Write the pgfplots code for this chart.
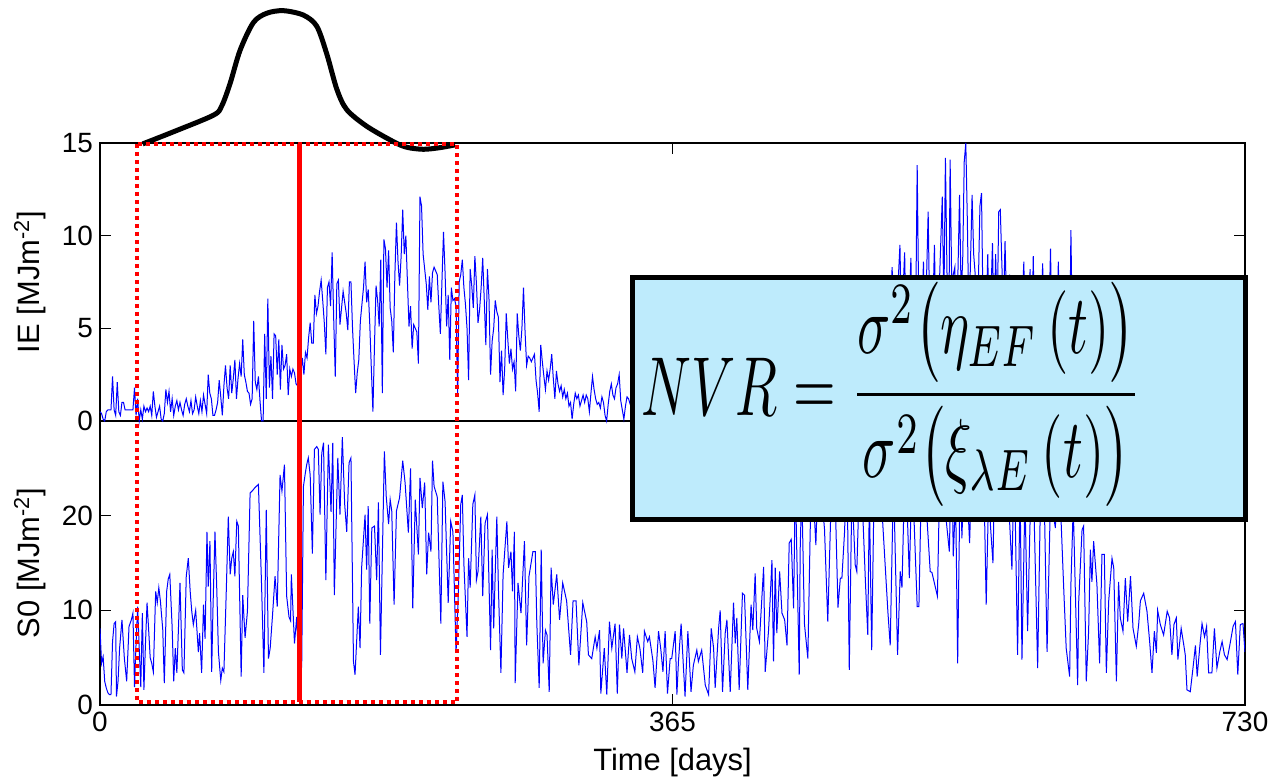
\documentclass[border=0pt]{standalone}
\usepackage{fontspec}
\setmainfont{Liberation Sans}
\usepackage{pgfplots}
\pgfplotsset{compat=1.18}
\usetikzlibrary{calc}
\definecolor{boxblue}{RGB}{190,235,252}
\begin{document}
\begin{tikzpicture}
\pgfplotsset{
  mystyle/.style={
    scale only axis, width=572.5bp,
    xmin=0, xmax=730,
    xtick={0,365,730},
    tick align=inside,
    major tick length=5.5bp,
    axis line style={line width=0.7bp},
    every tick/.style={line width=0.6bp, black},
    /pgf/number format/assume math mode=true,
    tick label style={font=\fontsize{14}{16}\selectfont},
    label style={font=\fontsize{15.5}{18}\selectfont},
    ylabel style={at={(axis description cs:-0.041,0.5)}, anchor=south},
    xlabel style={yshift=-1.5bp},
  }
}
\path[use as bounding box] (0,0) rectangle (636bp,391bp);
% ---------------- bottom axis: S0 ----------------
\begin{axis}[mystyle, at={(50bp,38.5bp)}, anchor=south west, height=142bp,
  ymin=0, ymax=30, ytick={0,10,20},
  xlabel={Time [days]}, ylabel={S0 [MJm\textsuperscript{-2}]}]
\addplot[blue, line width=0.5bp] coordinates {
(0,8.1)(1,4.4)(2,5.1)(3,2.5)(4,1.8)(5,1.3)(6,1.1)(7,1.1)(8,6.7)(9,8.6)(10,8.8)(10.5,0.9)(11.5,2.5)(12.5,6.0)(14,9.0)(15.5,5.0)(17,2.5)(18.5,8.3)(20,9.0)(21,9.7)(22,1.9)(23,6.5)(24,10.4)(25,6.0)(26,1.9)(27,9.7)(28,1.6)(29,6.5)(30,10.8)(31,8.0)(32,5.0)(33,4.4)(34,3.5)(35.5,12.0)(36.5,10.8)(37.5,12.4)(38.5,11.0)(40,8.0)(41,2.3)(42.5,12.0)(43.5,13.3)(44.5,13.8)(46,8.2)(47,2.5)(48,6.0)(49,3.4)(50,8.0)(51,12.9)(52.5,3.7)(53.5,3.4)(55,13.6)(56.3,15.5)(57.5,12.0)(58.5,9.9)(59.5,8.5)(61,10.0)(62.7,5.6)(63.5,7.6)(64.8,3.4)(66,10.6)(67,7.0)(68.2,18.3)(69,12.5)(70.1,17.3)(71.2,3.5)(72,10.0)(73.3,18.3)(74.5,12.0)(75.5,5.6)(77,2.6)(78,3.9)(79,3.5)(80.5,12.0)(81.8,19.9)(83,13.8)(84,15.5)(85,16.2)(86,13.6)(87.2,19.4)(88.2,18.9)(90,3.0)(91,11.6)(92.5,7.1)(94,9.9)(95.7,22.4)(97,22.6)(99,23.0)(101,23.3)(102,18.0)(103,12.7)(104.5,3.4)(106,20.6)(107.4,4.9)(108.5,6.0)(110,9.5)(111.6,13.6)(113,10.4)(114.8,24.3)(116,22.6)(117.6,25.4)(119,11.5)(120.5,9.3)(121.5,8.9)(122,13.8)(124,6.5)(125.4,9.3)(126.5,5.0)(128.6,4.2)(129.7,23.1)(131,24.6)(131.8,25.4)(132.8,26.1)(134,24.3)(135.4,16.0)(136.7,27.0)(138.2,27.3)(139.2,27.0)(140.3,20.1)(141.4,26.6)(142.5,27.7)(144,13.2)(145.6,27.5)(147.3,20.4)(148.4,27.7)(149.4,11.6)(151.6,26.1)(153,20.1)(154.5,28.3)(156,21.2)(157.3,18.3)(158.8,25.6)(160,26.1)(161.6,4.6)(162.6,3.2)(164.7,10.4)(165.8,6.0)(166.8,14.5)(169,20.1)(170,14.3)(171,21.0)(172,8.6)(173.3,18.7)(175,18.9)(176.4,13.2)(177.5,21.4)(178.8,5.3)(181.3,26.8)(182.5,22.0)(184,19.1)(185,21.7)(186,20.5)(187.5,10.6)(189,20.5)(191,21.9)(193,25.8)(194.5,23.5)(196.6,18.2)(198,25.0)(199.4,10.2)(201,21.7)(203,15.9)(204,24.0)(205.5,20.8)(207,23.5)(208.3,13.8)(209.5,18.2)(211,16.2)(212,25.8)(213,23.1)(215,22.0)(217.3,8.6)(218.6,23.6)(220,21.5)(222,10.8)(223.6,19.4)(225,18.3)(227,5.5)(228.5,12.0)(230,21.2)(231,22.2)(232,14.9)(234,7.2)(235,15.5)(236,12.4)(237.7,21.2)(239,22.2)(240,13.2)(241,14.1)(242.8,19.9)(244,11.5)(245.5,19.2)(247,20.1)(249,5.8)(250,16.4)(251,8.1)(253,19.9)(254,12.4)(255.6,3.4)(257,13.8)(259.4,19.4)(260.5,14.5)(262,16.2)(263,12.0)(264.2,18.3)(264.7,2.3)(266.5,12.9)(268.4,9.7)(270.6,17.3)(272,6.3)(273.5,13.6)(276,16.2)(277.5,16.2)(278.5,8.6)(280,1.8)(281.3,16.4)(282.5,4.4)(284,7.9)(285,7.4)(286.4,1.4)(287.6,14.5)(289,10.6)(291.2,13.8)(293,9.0)(295,12.9)(297.5,11.0)(300,5.3)(301.6,11.0)(303.5,11.0)(305.3,4.2)(307.8,10.8)(310.3,8.8)(311.4,5.3)(313.5,4.9)(315.7,7.2)(316.8,6.0)(318.5,7.9)(319.3,1.2)(321.5,6.0)(323.1,1.1)(324.8,8.8)(326.3,6.0)(328.4,8.6)(329.8,1.2)(331.2,8.5)(332.7,4.9)(333.8,8.1)(336,3.4)(337.6,7.4)(339,4.9)(341,3.5)(342.6,7.2)(344.2,6.0)(346,3.4)(347.1,7.8)(349.2,6.7)(350.3,7.2)(352.5,4.7)(353.9,1.8)(356.1,7.8)(357.6,5.8)(358.9,3.5)(360.3,7.8)(361.8,1.2)(363.5,4.9)(364.5,4.9)(366.7,7.8)(367.8,1.1)(368.8,4.6)(370.5,8.6)(372,3.9)(373,0.9)(374.8,7.8)(376.8,1.4)(378.3,4.2)(380.5,5.8)(381.5,4.6)(383.6,5.8)(385.9,2.1)(388,1.1)(389.7,8.1)(391.2,6.0)(392.2,1.8)(394.4,8.1)(395.4,10.0)(396.9,1.4)(398.6,7.6)(399.7,9.0)(400.7,5.3)(401.8,1.4)(403.9,10.8)(405,6.5)(406,9.2)(407.5,1.6)(409.6,11.8)(410.9,11.6)(413,1.6)(415.1,10.6)(416.2,7.9)(417.7,13.9)(418.7,8.1)(420.4,6.7)(423.1,14.6)(424.1,3.5)(426.2,7.8)(427.3,11.3)(428.4,15.3)(429.4,4.6)(430.5,14.5)(431.5,7.6)(433.3,14.1)(434.8,9.7)(436.5,9.0)(438,6.3)(439.4,17.1)(440.7,17.5)(442.2,10.2)(443.3,24.0)(445.8,3.2)(446.4,16.4)(447.4,23.0)(449.1,8.6)(451.3,4.9)(452.8,18.5)(453.9,25.0)(456.4,16.9)(458.1,26.0)(461.9,18.6)(464,8.8)(466.6,24.5)(468.7,22.0)(470.5,10.3)(472,13.4)(473,13.4)(474.7,18.3)(476.2,26.5)(477.7,3.7)(479.4,23.0)(481.5,14.8)(482.5,14.1)(484.7,27.0)(488,13.0)(489.5,7.4)(490.5,22.0)(492,5.8)(493.7,25.0)(498.4,21.0)(502.3,9.9)(503.8,6.3)(505.9,24.0)(508.5,5.3)(510.2,14.1)(511.3,12.4)(513.4,27.0)(516,13.4)(517.7,25.5)(521,10.4)(522.1,10.4)(524.2,28.0)(529.3,14.1)(530.4,14.0)(533.9,11.5)(535.6,26.0)(541.5,16.2)(543,27.5)(544,15.7)(545.5,22.0)(546.8,4.4)(548.5,26.0)(549.5,17.6)(551.5,28.0)(554.4,17.1)(555.9,25.0)(558,20.5)(561,27.0)(563.5,24.0)(565,10.6)(566.5,22.0)(569.3,15.0)(570.8,28.0)(573,21.0)(576,25.5)(579,22.5)(581.4,14.3)(582.9,26.0)(585,5.3)(586.6,23.0)(587.8,4.8)(589.7,22.0)(591.4,7.8)(592.9,19.0)(595,24.0)(597.8,3.9)(599.5,21.0)(601.5,26.5)(603.8,5.6)(606,22.0)(609.1,18.7)(610.2,24.0)(612.5,20.5)(614.4,12.4)(616,6.0)(618.2,3.0)(619,12.7)(620.5,21.0)(623.3,2.1)(624,11.0)(626.1,18.5)(627.1,18.9)(628.8,2.5)(630.3,7.8)(631.4,16.4)(632.4,13.0)(633.5,17.3)(635.6,12.7)(637.3,4.4)(638.8,15.9)(640.3,15.9)(641.6,3.4)(643.1,11.0)(645.2,15.5)(646.3,14.5)(648,2.5)(649.4,13.0)(650.5,9.2)(652.2,7.8)(653.7,13.4)(655.2,8.8)(657,13.6)(658.6,8.1)(660.7,6.2)(662.2,8.5)(663.3,11.0)(665.4,11.8)(667.5,9.9)(669.2,6.7)(670.7,3.4)(672.2,7.8)(673.5,5.5)(674.3,10.0)(676,8.5)(678.1,7.4)(680.4,9.9)(681.9,9.2)(683.4,5.3)(684.7,8.5)(686.2,9.2)(687.2,4.8)(689.3,8.1)(691,6.3)(691.9,5.3)(693,1.6)(695.1,1.4)(696.9,4.0)(698.4,6.3)(699.5,3.0)(701.2,6.2)(702.6,8.6)(704.2,7.2)(705.5,8.3)(706.8,3.4)(708.9,3.4)(710.5,8.1)(712.1,3.9)(713.9,5.6)(715.4,6.7)(716.9,5.3)(718.6,4.8)(720.3,6.3)(722.4,8.3)(723.9,8.8)(725.4,3.2)(727,8.5)(728.7,8.6)(730,5.6)
};
\coordinate (RB) at (axis cs:227.7,0.3);
\coordinate (LB) at (axis cs:126.9,0.3);
\coordinate (BoxBR) at (axis cs:730,19.6);
\end{axis}
% ---------------- top axis: IE ----------------
\begin{axis}[mystyle, at={(50bp,180.5bp)}, anchor=south west, height=139bp,
  ymin=0, ymax=15, ytick={0,5,10,15}, xticklabels={}, clip=false,
  ylabel={IE [MJm\textsuperscript{-2}]}]
\addplot[blue, line width=0.5bp] coordinates {
(0,0.5)(1,0.4)(2,0.1)(3,0)(4,0.5)(5,0.6)(6,0.6)(7,0.6)(8,2.4)(9,0.6)(10,0.3)(11,2.1)(12,0.5)(13,0.3)(14,1.0)(15,1.0)(16,0.6)(17,0.6)(18,0.6)(19,0.6)(20,0.6)(21,0.6)(22,1.8)(23,0.3)(24,1.2)(25,0)(26,0.6)(27,0.1)(28,0.8)(29,0.5)(30,0.7)(31,0.5)(32,0.8)(33,0.3)(34,1.6)(35,0.8)(36,0.2)(37,0.5)(38,0.8)(39,0.1)(40,0)(41,0.4)(42,1.7)(43,1.0)(44,1.6)(45,0.5)(46,1.2)(47,0.3)(48,0.8)(49,1.1)(50,0.6)(51,1.0)(52,0.6)(53,0.3)(54,0.9)(55,1.2)(56,0.8)(57,0.5)(58,1.1)(59,0.4)(60,0.6)(61,1.3)(62,0.8)(63,0.4)(64,1.1)(65,0.5)(66,1.4)(67,0.9)(68,0.4)(69,2.5)(70,1.5)(71,1.2)(72,0.3)(73,0.3)(74,0.6)(75,1.0)(76,2.2)(77,1.3)(78,0.3)(79,1.9)(80,3.0)(81,1.8)(82,1.2)(83,3.0)(84,1.5)(85,2.3)(86,3.3)(87,1.2)(88,2.3)(89,3.1)(90,2.4)(91,4.4)(92,2.5)(93,2.1)(94,1.6)(95,1.5)(96,0.9)(97,1.2)(98,5.4)(99,2.1)(100,1.7)(101,2.4)(102,1.1)(103,0)(104,0)(105,4.7)(106,1.2)(107,6.6)(108,1.8)(109,3.5)(110,1.2)(111,4.7)(112,4.6)(113,2.5)(114,4.4)(115,1.7)(116,4.1)(117,2.8)(118,3.0)(119,3.6)(120,1.4)(121,2.8)(122,2.4)(123,2.8)(124,2.6)(125,2.0)(126,1.9)(127,1.5)(128,2.6)(129,3.4)(130,2.5)(131,3.7)(132,3.4)(133,4.5)(134,5.3)(135,4.2)(136,4.2)(137,6.8)(138,5.8)(139,6.2)(140,7.0)(141,7.6)(142,6.5)(143,5.3)(144,3.6)(145,7.2)(146,7.5)(147,6.2)(148,9.1)(149,5.5)(150,2.4)(151,7.4)(152,7.6)(153,5.2)(154,6.1)(155,7.0)(156,6.4)(157,5.8)(158,4.9)(159,7.5)(160,7.5)(161,5.0)(162,3.2)(163,1.5)(164,2.6)(165,3.3)(166,5.4)(167,6.3)(168,7.2)(169,8.6)(170,6.4)(171,7.1)(172,5.2)(173,2.8)(174,0.5)(175,4.1)(176,7.3)(177,6.5)(178,5.1)(179,8.7)(180,1.5)(181,9.8)(182,9.3)(183,7.2)(184,9.2)(185,6.1)(186,5.4)(187,3.7)(188,7.9)(189,10.7)(190,8.6)(191,7.3)(192,8.9)(193,11.4)(194,9.0)(195,10.0)(196,7.5)(197,5.1)(198,6.2)(199,3.9)(200,5.2)(201,5.0)(202,4.8)(203,3.1)(204,12.1)(205,11.6)(206,9.0)(207,8.2)(208,7.4)(209,6.0)(210,7.8)(211,6.4)(212,8.0)(213,8.3)(214,8.1)(215,7.9)(216,6.2)(217,4.7)(218,7.5)(219,10.2)(220,8.0)(221,5.1)(222,6.8)(223,3.3)(224,7.2)(225,6.5)(226,6.6)(227,6.2)(228,1.4)(229,7.5)(230,7.9)(231,8.7)(232,7.2)(233,6.3)(234,5.0)(235,2.2)(236,8.2)(237,7.3)(238,6.1)(239,8.9)(240,7.4)(241,5.3)(242,6.0)(243,7.2)(244,8.8)(245,6.5)(246,4.1)(247,8.2)(248,6.6)(249,2.5)(250,4.3)(251,5.0)(252,6.5)(253,5.9)(254,5.6)(255,2.1)(256,3.8)(257,1.4)(258,2.8)(259,5.8)(260,4.4)(261,3.1)(262,3.9)(263,2.8)(264,3.2)(265,1.6)(266,5.8)(267,4.6)(268,3.8)(269,5.0)(270,7.2)(271,4.8)(272,3.0)(273,3.5)(274,3.4)(275,3.2)(276,3.4)(277,3.6)(278,2.2)(279,1.5)(280,0.5)(281,4.1)(282,3.2)(283,2.4)(284,1.7)(285,2.7)(286,2.2)(287,2.8)(288,3.6)(289,2.3)(290,1.2)(291,2.7)(292,2.0)(293,1.6)(294,1.9)(295,1.3)(296,1.7)(297,1.2)(298,1.5)(299,0.8)(300,1.0)(301,0.1)(302,0.9)(303,1.5)(304,1.2)(305,1.4)(306,0.8)(307,1.1)(308,1.4)(309,1.0)(310,1.4)(311,1.2)(312,0.5)(313,1.5)(314,2.4)(315,1.7)(316,1.2)(317,0.9)(318,1.0)(319,0.7)(320,1.3)(321,1.0)(322,0.3)(323,0)(324,0.9)(325,1.6)(326,2.0)(327,1.4)(328,1.2)(329,1.8)(330,2.0)(331,2.5)(332,1.1)(333,0.6)(334,0.1)(335,0.8)(336,1.3)(337,1.2)(338,0.9)
(340,0.6)(342,1.1)(344,0.4)(346,1.4)(348,0.8)(350,1.2)(352,0.3)(354,1.5)(356,0.9)(358,1.8)(360,0.5)(362,1.3)(364,1.0)(366,1.9)(368,0.6)(370,1.4)(372,2.2)(374,0.8)(376,1.6)(378,2.4)(380,1.1)(382,2.0)(384,2.8)(386,1.0)(388,2.5)(390,3.1)(392,1.4)(394,2.9)(396,3.6)(398,1.8)(400,3.2)(402,4.1)(404,2.0)(406,3.5)(408,4.6)(410,2.3)(412,4.0)(414,5.1)(416,2.6)(418,4.4)(420,5.6)(422,2.2)(424,4.9)(426,6.0)(428,3.0)(430,5.3)(432,6.4)(434,2.8)(436,5.8)(438,6.9)(440,3.4)(442,6.1)(444,7.2)(446,3.1)(448,6.5)(450,7.4)(452,3.8)(454,6.8)(456,7.5)(458,4.2)(460,7.0)(462,7.6)(464,3.5)(466,7.2)(468,6.1)(470,4.0)(472,7.4)(474,6.6)(476,3.2)(478,7.3)(480,6.0)(482,4.5)(484,7.5)(486,5.2)(488,3.0)(490,7.1)(492,6.3)(494,4.1)(496,7.4)(498,5.5)(500,2.8)(502,7.0)(504,5.8)
(505,8.3)(507,3.5)(508,6.0)(510,9.5)(511,5.0)(513,9.1)(514,4.2)(516,6.5)(517,8.8)(518,3.6)(520,5.2)(521,13.8)(522,6.1)(523,2.9)(525,8.6)(526,4.4)(528,11.3)(529,5.3)(530,2.6)(532,9.5)(533,4.8)(535,7.0)(537,12.1)(538,6.2)(539,14.2)(540,8.0)(541,3.3)(542,14.1)(543,7.5)(545,8.3)(546,4.0)(548,12.2)(549,6.9)(550,8.6)(551,14.0)(552,15.0)(553,10.7)(554,5.1)(556,12.2)(557,9.0)(558,7.9)(559,3.2)(561,11.6)(562,12.3)(563,6.0)(564,2.5)(566,9.0)(567,3.8)(569,9.6)(570,4.7)(571,9.0)(572,5.6)(573,11.3)(574,11.4)(575,8.4)(576,5.9)(577,9.7)(578,6.2)(580,7.9)(581,3.0)(583,5.5)(585,2.1)(587,4.6)(589,8.6)(590,3.3)(592,6.0)(593,8.2)(594,4.0)(595,8.9)(596,3.7)(598,2.4)(600,5.8)(601,8.5)(602,3.1)(604,1.5)(606,9.3)(607,4.2)(609,2.0)(611,8.6)(612,3.6)(614,1.2)(616,4.5)(618,2.0)(619,10.3)(620,4.0)
(622,2.3)(625,5.1)(628,1.4)(631,3.8)(634,0.9)(637,4.2)(640,2.0)(643,0.6)(646,3.1)(649,1.5)(652,2.8)(655,0.4)(658,2.1)(661,1.2)(664,2.6)(667,0.5)(670,1.8)(673,0.9)(676,2.2)(679,0.3)(682,1.4)(685,0.7)(688,1.6)(691,0.2)(694,1.1)(697,0.5)(700,1.3)(703,0.2)(706,0.9)(709,0.4)(712,1.0)(715,0.1)(718,0.7)(721,0.3)(724,0.8)(727,0.2)(730,0.5)
};
% sketch of the time-varying NVR shape above the window
\addplot[black, line width=2.5bp, smooth, tension=0.5] coordinates {
(27.2,14.95)(46.7,15.6)(72.3,16.5)(77.6,17.0)(82.9,18.2)(89.3,20.0)(97.8,21.5)(106.3,22.0)(116.9,22.14)(129.7,21.9)(138.2,21.3)(144.6,19.8)(151,17.9)(157.3,16.8)(170.1,15.9)(187.1,15.07)(195.6,14.77)(206.2,14.66)(216.8,14.75)(226.4,14.9)
};
\coordinate (LT) at (axis cs:23.6,14.95);
\coordinate (RT) at (axis cs:227.7,14.95);
\coordinate (MT) at (axis cs:126.9,14.95);
\coordinate (BoxTL) at (axis cs:339.3,7.72);
\end{axis}
% window and markers
\draw[red, line width=2bp, dash pattern=on 2bp off 2bp] (LT) rectangle (RB);
\draw[red, line width=2.5bp] (MT) -- (LB);
% NVR box
\filldraw[fill=boxblue, draw=black, line width=2.5bp] (BoxTL) rectangle (BoxBR);
\coordinate (FC) at ($(BoxTL)!0.5!(BoxBR)+(-23.5bp,2bp)$);
\node[xscale=2.75, yscale=4.2, transform shape, inner sep=0pt] at (FC) {\fontsize{10}{12}\selectfont
  $\displaystyle NVR=\frac{\sigma^{2}\bigl(\eta_{EF}\,(t)\bigr)}{\sigma^{2}\bigl(\xi_{\lambda E}\,(t)\bigr)}$};
\end{tikzpicture}
\end{document}
